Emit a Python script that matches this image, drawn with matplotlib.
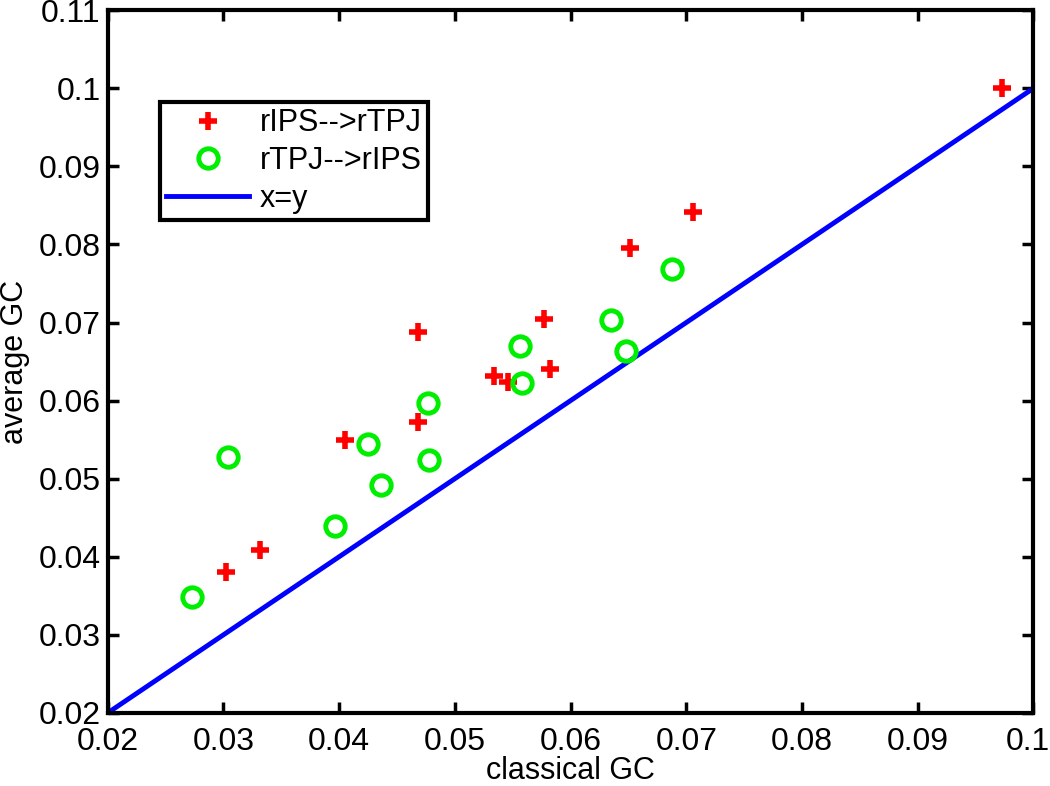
import numpy as np
import matplotlib
matplotlib.use("Agg")
from matplotlib import pyplot as plt
from matplotlib import transforms

# rIPS-->rTPJ (red plus)
ips_tpj_x = [0.0973, 0.0706, 0.0651, 0.0577, 0.0582, 0.0534, 0.0546, 0.0468, 0.0468, 0.0405, 0.0332, 0.0302]
ips_tpj_y = [0.1000, 0.0842, 0.0796, 0.0705, 0.0641, 0.0632, 0.0624, 0.0688, 0.0573, 0.0550, 0.0409, 0.0381]

# rTPJ-->rIPS (green circle)
tpj_ips_x = [0.0688, 0.0635, 0.0648, 0.0556, 0.0558, 0.0477, 0.0478, 0.0425, 0.0436, 0.0396, 0.0304, 0.0273]
tpj_ips_y = [0.0769, 0.0703, 0.0663, 0.0670, 0.0622, 0.0597, 0.0524, 0.0545, 0.0492, 0.0439, 0.0528, 0.0349]

diag = [0.02, 0.1]

xticks = [0.02, 0.03, 0.04, 0.05, 0.06, 0.07, 0.08, 0.09, 0.1]
xticklabels = ['0.02', '0.03', '0.04', '0.05', '0.06', '0.07', '0.08', '0.09', '0.1']
yticks = [0.02, 0.03, 0.04, 0.05, 0.06, 0.07, 0.08, 0.09, 0.1, 0.11]
yticklabels = ['0.02', '0.03', '0.04', '0.05', '0.06', '0.07', '0.08', '0.09', '0.1', '0.11']

plt.rcParams['font.family'] = ['Liberation Sans', 'DejaVu Sans']
plt.rcParams['xtick.direction'] = 'in'
plt.rcParams['ytick.direction'] = 'in'

fig = plt.figure(figsize=(10.5, 7.86), dpi=100)
ax = fig.add_axes([0.1026, 0.093, 0.8816, 0.894])

ax.plot(ips_tpj_x, ips_tpj_y, linestyle='none', marker='+', markersize=13,
        markeredgewidth=4, color='#ff0000', label='rIPS-->rTPJ', zorder=3)
ax.plot(tpj_ips_x, tpj_ips_y, linestyle='none', marker='o', markersize=14,
        markeredgewidth=3.5, markerfacecolor='none', markeredgecolor='#00ee00',
        label='rTPJ-->rIPS', zorder=3)
ax.plot(diag, diag, color='#0000ff', linewidth=3.5, label='x=y', zorder=2)

ax.set_xlim(0.02, 0.1)
ax.set_ylim(0.02, 0.11)
ax.set_xticks(xticks)
ax.set_xticklabels(xticklabels)
ax.set_yticks(yticks)
ax.set_yticklabels(yticklabels)
ax.tick_params(axis='both', which='both', labelsize=23, length=8, width=2.5,
               top=True, right=True)
ax.tick_params(axis='x', pad=10)
ax.tick_params(axis='y', pad=5)
for sp in ['top', 'right', 'bottom', 'left']:
    ax.spines[sp].set_linewidth(3)

# nudge the last x tick label so it stays inside the figure
last = ax.get_xticklabels()[-1]
last.set_transform(last.get_transform() + transforms.ScaledTranslation(-4/72, 0, fig.dpi_scale_trans))

ax.set_xlabel('classical GC', fontsize=22, labelpad=-0.5)
ax.set_ylabel('average GC', fontsize=22, labelpad=6)

leg = ax.legend(loc='upper left', bbox_to_anchor=(0.056, 0.87), fontsize=22,
                frameon=True, fancybox=False, framealpha=1, edgecolor='black',
                handlelength=2.7, handletextpad=0.35, borderpad=0.22,
                labelspacing=0.25, borderaxespad=0)
leg.get_frame().set_linewidth(3)

plt.savefig('out.png', dpi=100, facecolor='w')
plt.close('all')
